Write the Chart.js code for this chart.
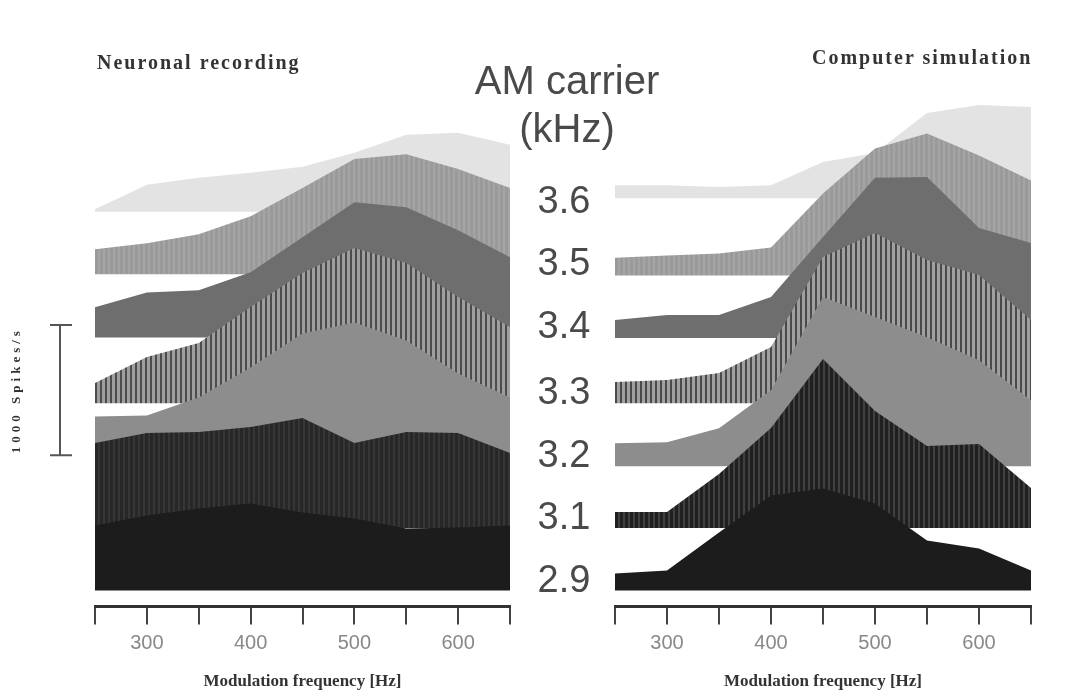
<!DOCTYPE html>
<html>
<head>
<meta charset="utf-8">
<script src="https://cdn.jsdelivr.net/npm/chart.js@4.4.1/dist/chart.umd.min.js"></script>
<style>
  html, body { margin:0; padding:0; background:#fff; }
  body { width:1076px; height:696px; position:relative; overflow:hidden; }
  canvas { position:absolute; top:0; }
  #leftChart { left:0; }
  #rightChart { left:600px; }
  .panelTitle { position:absolute; font-family:"Liberation Serif", serif; font-weight:bold; font-size:20px; letter-spacing:2px; color:#333; white-space:nowrap; line-height:1; }
  .center { position:absolute; left:447px; width:240px; text-align:center; font-family:"Liberation Sans", sans-serif; color:#4a4a4a; white-space:nowrap; line-height:1; }
</style>
</head>
<body>
<canvas id="leftChart" width="530" height="696"></canvas>
<canvas id="rightChart" width="476" height="696"></canvas>
<div class="panelTitle" style="left:97px;top:52px">Neuronal recording</div>
<div class="panelTitle" style="left:812px;top:47px">Computer simulation</div>
<div class="center" style="top:60px;font-size:40px">AM carrier</div>
<div class="center" style="top:108px;font-size:40px">(kHz)</div>
<div id="carrierLabels"></div>
<script>
// modulation frequencies (Hz) on the x axis
const freqs = [250, 300, 350, 400, 450, 500, 550, 600, 650];
const tickLabels = [300, 400, 500, 600];
// AM carrier (kHz), front (bottom) layer first
const carriers = ['2.9', '3.1', '3.2', '3.3', '3.4', '3.5', '3.6'];

// neuronal recording, spikes/s above each layer's baseline
const recorded29 = [500, 577, 631, 669, 600, 554, 477, 485, 500];
const recorded31 = [654, 731, 738, 777, 846, 654, 738, 731, 577];
const recorded32 = [377, 385, 523, 754, 1015, 1100, 962, 708, 523];
const recorded33 = [154, 354, 462, 738, 1000, 1192, 1077, 815, 585];
const recorded34 = [231, 346, 362, 500, 769, 1038, 1000, 823, 615];
const recorded35 = [192, 238, 308, 446, 662, 885, 923, 808, 662];
const recorded36 = [20, 208, 262, 300, 346, 454, 592, 608, 515];

// computer simulation
const simulated29 = [131, 154, 446, 731, 785, 669, 385, 323, 154];
const simulated31 = [123, 123, 415, 769, 1300, 900, 631, 646, 308];
const simulated32 = [177, 185, 292, 585, 1300, 1146, 992, 815, 508];
const simulated33 = [162, 177, 231, 431, 1123, 1308, 1100, 985, 638];
const simulated34 = [138, 177, 177, 315, 777, 1231, 1238, 846, 731];
const simulated35 = [138, 154, 169, 215, 631, 977, 1092, 923, 731];
const simulated36 = [100, 100, 85, 100, 277, 346, 654, 715, 700];

// waterfall offsets (spikes/s) of each layer's baseline
const offsetsLeft = [0, 480, 960, 1440, 1945, 2430, 2910];
const offsetsRight = [0, 480, 955, 1440, 1940, 2420, 3015];

// scale bar: 1000 spikes/s
const barFrom = 1040, barTo = 2040;
const barLabel = '1000 Spikes/s';

const recorded = [recorded29, recorded31, recorded32, recorded33, recorded34, recorded35, recorded36];
const simulated = [simulated29, simulated31, simulated32, simulated33, simulated34, simulated35, simulated36];

// vertical stripe fill
function stripes(dark, light, wd, wl) {
  const c = document.createElement('canvas');
  c.width = wd + wl; c.height = 4;
  const g = c.getContext('2d');
  g.fillStyle = light; g.fillRect(0, 0, wd + wl, 4);
  g.fillStyle = dark; g.fillRect(0, 0, wd, 4);
  return g.createPattern(c, 'repeat');
}

const fillsLeft = ['#1c1c1c', stripes('#272727', '#363636', 3, 2), '#8d8d8d',
  stripes('#4c4c4c', '#9e9e9e', 2, 3), '#6e6e6e', stripes('#9a9a9a', '#a5a5a5', 3, 2), '#e3e3e3'];
const fillsRight = ['#1c1c1c', stripes('#202020', '#404040', 3, 2), '#8d8d8d',
  stripes('#4a4a4a', '#a0a0a0', 2, 3), '#6e6e6e', stripes('#9a9a9a', '#a5a5a5', 3, 2), '#e3e3e3'];

function makeDatasets(series, offsets, fills) {
  return series.map((vals, k) => ({
    label: carriers[k],
    data: vals.map((v, i) => ({ x: freqs[i], y: offsets[k] + v })),
    fill: { value: offsets[k] },
    backgroundColor: fills[k],
    borderWidth: 0,
    pointRadius: 0,
    tension: 0,
    order: k
  }));
}

const scaleBar = {
  id: 'scaleBar',
  afterDraw(chart) {
    const y = chart.scales.y;
    const top = y.getPixelForValue(barTo), bot = y.getPixelForValue(barFrom);
    const ctx = chart.ctx;
    ctx.save();
    ctx.strokeStyle = '#555'; ctx.lineWidth = 2;
    ctx.beginPath();
    ctx.moveTo(60, top); ctx.lineTo(60, bot);
    ctx.moveTo(50, top); ctx.lineTo(72, top);
    ctx.moveTo(50, bot); ctx.lineTo(72, bot);
    ctx.stroke();
    ctx.translate(17, (top + bot) / 2);
    ctx.rotate(-Math.PI / 2);
    ctx.font = 'bold 13px "Liberation Serif", serif';
    ctx.letterSpacing = '4px';
    ctx.fillStyle = '#333';
    ctx.textAlign = 'center'; ctx.textBaseline = 'middle';
    ctx.fillText(barLabel, 0, 0);
    ctx.restore();
  }
};

function makeChart(id, datasets, padLeft, padRight, plugins) {
  return new Chart(document.getElementById(id), {
    type: 'line',
    data: { datasets },
    plugins,
    options: {
      responsive: false,
      animation: false,
      events: [],
      layout: { padding: { top: 100, bottom: 0, left: padLeft, right: padRight } },
      plugins: { legend: { display: false }, tooltip: { enabled: false } },
      scales: {
        x: {
          type: 'linear', min: 250, max: 650,
          grid: { drawOnChartArea: false, drawTicks: true, tickLength: 18, color: '#444', lineWidth: 2 },
          border: { display: true, color: '#333', width: 3 },
          ticks: {
            stepSize: 50, padding: 7, color: '#888', maxRotation: 0,
            font: { family: '"Liberation Sans", sans-serif', size: 20 },
            callback: v => tickLabels.includes(v) ? String(v) : ''
          },
          title: {
            display: true, text: 'Modulation frequency [Hz]', color: '#333',
            font: { family: '"Liberation Serif", serif', size: 17, weight: 'bold' },
            padding: { top: 9, bottom: 4 }
          }
        },
        y: { display: false, min: -123, max: 3769 }
      }
    }
  });
}

const leftChart = makeChart('leftChart', makeDatasets(recorded, offsetsLeft, fillsLeft), 95, 20, [scaleBar]);
const rightChart = makeChart('rightChart', makeDatasets(simulated, offsetsRight, fillsRight), 15, 45, []);

// carrier labels between the panels, placed at the layer baselines
const holder = document.getElementById('carrierLabels');
carriers.forEach((c, k) => {
  const yPix = leftChart.scales.y.getPixelForValue(offsetsLeft[k]) - 12;
  const d = document.createElement('div');
  d.className = 'center';
  d.style.fontSize = '38px';
  d.style.left = '444px';
  d.style.top = (yPix - 19) + 'px';
  d.textContent = c;
  holder.appendChild(d);
});
</script>
</body>
</html>
